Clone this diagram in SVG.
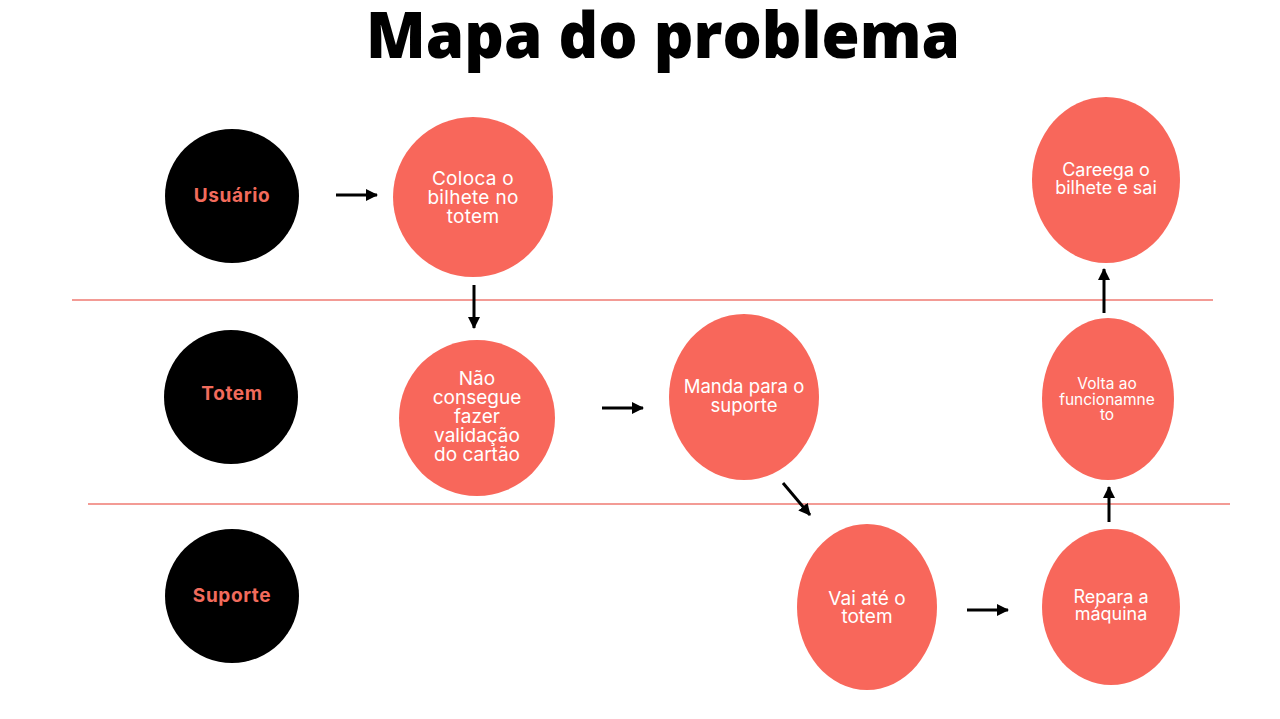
<svg xmlns="http://www.w3.org/2000/svg" width="1280" height="719" viewBox="0 0 1280 719">
<defs>
<marker id="ah" markerUnits="userSpaceOnUse" markerWidth="12" markerHeight="12" viewBox="0 0 12 12" refX="11" refY="6" orient="auto">
<path d="M0,0 L12,6 L0,12 Z" fill="#000"/>
</marker>
<style>
.title{font-family:"Open Sans","Liberation Sans",sans-serif;font-weight:800;font-size:63px;fill:#000}
.actor{fill:#000}
.alabel{font-family:"Inter","Liberation Sans",sans-serif;font-weight:700;font-size:19px;letter-spacing:0.6px;fill:#F26B5C;text-anchor:middle}
.step{fill:#F8675B}
.slabel{font-family:"Inter","Liberation Sans",sans-serif;font-weight:400;font-size:19px;fill:#fff;text-anchor:middle}
.lane{stroke:#EF7A72;stroke-width:1.5;fill:none}
.conn{stroke:#000;stroke-width:3;fill:none;marker-end:url(#ah)}
</style>
</defs>
<rect width="1280" height="719" fill="#fff"/>
<text class="title" x="663" y="58" text-anchor="middle" textLength="594" lengthAdjust="spacingAndGlyphs">Mapa do problema</text>
<g id="lanes">
<line class="lane" x1="72" y1="300" x2="1213" y2="300"/>
<line class="lane" x1="88" y1="504" x2="1230" y2="504"/>
</g>
<g id="usuario">
<circle class="actor" cx="232" cy="196" r="67"/>
<text class="alabel" x="232" y="202">Usuário</text>
</g>
<g id="totem">
<circle class="actor" cx="231" cy="397" r="67"/>
<text class="alabel" x="232" y="400">Totem</text>
</g>
<g id="suporte">
<circle class="actor" cx="232" cy="596" r="67"/>
<text class="alabel" x="232" y="602">Suporte</text>
</g>
<g id="coloca">
<ellipse class="step" cx="473" cy="197" rx="80" ry="80"/>
<text class="slabel" letter-spacing="0.3"><tspan x="473" y="185">Coloca o</tspan><tspan x="473" y="204">bilhete no</tspan><tspan x="473" y="223">totem</tspan></text>
</g>
<g id="nao">
<ellipse class="step" cx="477" cy="418" rx="78" ry="78"/>
<text class="slabel"><tspan x="477" y="385">Não</tspan><tspan x="477" y="404">consegue</tspan><tspan x="477" y="423">fazer</tspan><tspan x="477" y="442">validação</tspan><tspan x="477" y="461">do cartão</tspan></text>
</g>
<g id="manda">
<ellipse class="step" cx="744" cy="397" rx="75" ry="83"/>
<text class="slabel" style="font-size:18.5px"><tspan x="744" y="393">Manda para o</tspan><tspan x="744" y="412">suporte</tspan></text>
</g>
<g id="careega">
<ellipse class="step" cx="1106" cy="180" rx="74" ry="83"/>
<text class="slabel" style="font-size:18px"><tspan x="1106" y="176">Careega o</tspan><tspan x="1106" y="194">bilhete e sai</tspan></text>
</g>
<g id="volta">
<ellipse class="step" cx="1108" cy="399" rx="66" ry="81"/>
<text class="slabel" style="font-size:15.5px"><tspan x="1107" y="389">Volta ao</tspan><tspan x="1107" y="405">funcionamne</tspan><tspan x="1107" y="420">to</tspan></text>
</g>
<g id="vai">
<ellipse class="step" cx="867" cy="607" rx="70" ry="83"/>
<text class="slabel"><tspan x="867" y="605">Vai até o</tspan><tspan x="867" y="623">totem</tspan></text>
</g>
<g id="repara">
<ellipse class="step" cx="1111" cy="607" rx="69" ry="78"/>
<text class="slabel" style="font-size:18px"><tspan x="1111" y="603">Repara a</tspan><tspan x="1111" y="620">máquina</tspan></text>
</g>
<g id="connectors">
<line class="conn" x1="336" y1="195" x2="377" y2="195"/>
<line class="conn" x1="474" y1="285" x2="474" y2="328"/>
<line class="conn" x1="602" y1="408" x2="643" y2="408"/>
<line class="conn" x1="783" y1="483" x2="810" y2="515"/>
<line class="conn" x1="967" y1="610" x2="1008" y2="610"/>
<line class="conn" x1="1109" y1="522" x2="1109" y2="487"/>
<line class="conn" x1="1104" y1="313" x2="1104" y2="269"/>
</g>
</svg>
